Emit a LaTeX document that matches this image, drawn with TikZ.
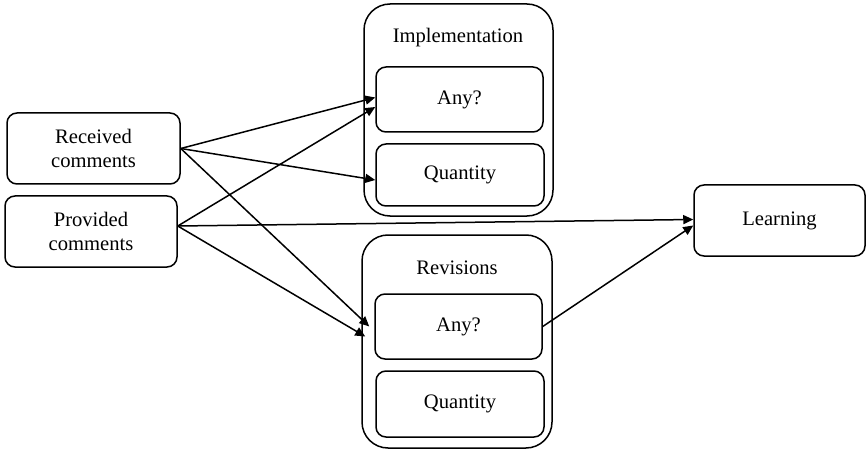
\documentclass[tikz,border=0pt]{standalone}
\usepackage{fontspec}
\setmainfont{Liberation Serif}
\usetikzlibrary{arrows.meta}
\tikzset{
  box/.style={draw, rounded corners=5pt, line width=0.75pt, align=center,
    inner sep=0pt, font=\fontsize{10.3}{12}\selectfont},
  group/.style={draw, rounded corners=13pt, line width=0.75pt, inner sep=0pt},
  link/.style={->, line width=0.75pt, >={Triangle[length=5pt,width=4.5pt]}}
}

\begin{document}
\begin{tikzpicture}[x=0.5pt, y=-0.5pt]
    \useasboundingbox (0,0) rectangle (868,449);
    % the two groups
    \node [group, minimum width=94.5pt, minimum height=106pt] (impl) at (458.5,110) {};
    \node [group, minimum width=95pt, minimum height=106.5pt] (rev) at (457,341.5) {};
    \node [font=\fontsize{10.3}{12}\selectfont] (impltitle) at (458,38) {Implementation};
    \node [font=\fontsize{10.3}{12}\selectfont] (revtitle) at (457,268) {Revisions};
    % boxes
    \node [box, minimum width=86.5pt, minimum height=35.5pt] (received) at (93.5,148.5) {Received\\comments};
    \node [box, minimum width=86pt, minimum height=35.5pt] (provided) at (91,231.5) {Provided\\comments};
    \node [box, minimum width=83.5pt, minimum height=32.5pt] (implany) at (459.5,99.5) {Any?};
    \node [box, minimum width=84pt, minimum height=31pt] (implqty) at (460,175) {Quantity};
    \node [box, minimum width=83.5pt, minimum height=32.5pt] (revany) at (458.5,326.5) {Any?};
    \node [box, minimum width=84pt, minimum height=33pt] (revqty) at (460,404) {Quantity};
    \node [box, minimum width=85.5pt, minimum height=35.5pt] (learning) at (779.5,220.5) {Learning};
    % arrows
    \draw [link] (received.east) -- ([yshift=1pt] implany.west);
    \draw [link] (received.east) -- ([yshift=-2.5pt] implqty.west);
    \draw [link] (received.east) -- ([xshift=-2.5pt] revany.west);
    \draw [link] ([yshift=2.75pt] provided.east) -- ([yshift=-3.75pt] implany.west);
    \draw [link] ([yshift=2.75pt] provided.east) -- ([xshift=-4.5pt, yshift=-5pt] revany.west);
    \draw [link] ([yshift=2.75pt] provided.east) -- ([yshift=0.5pt] learning.west);
    \draw [link] (revany.east) -- ([yshift=-2.5pt] learning.west);
\end{tikzpicture}
\end{document}
